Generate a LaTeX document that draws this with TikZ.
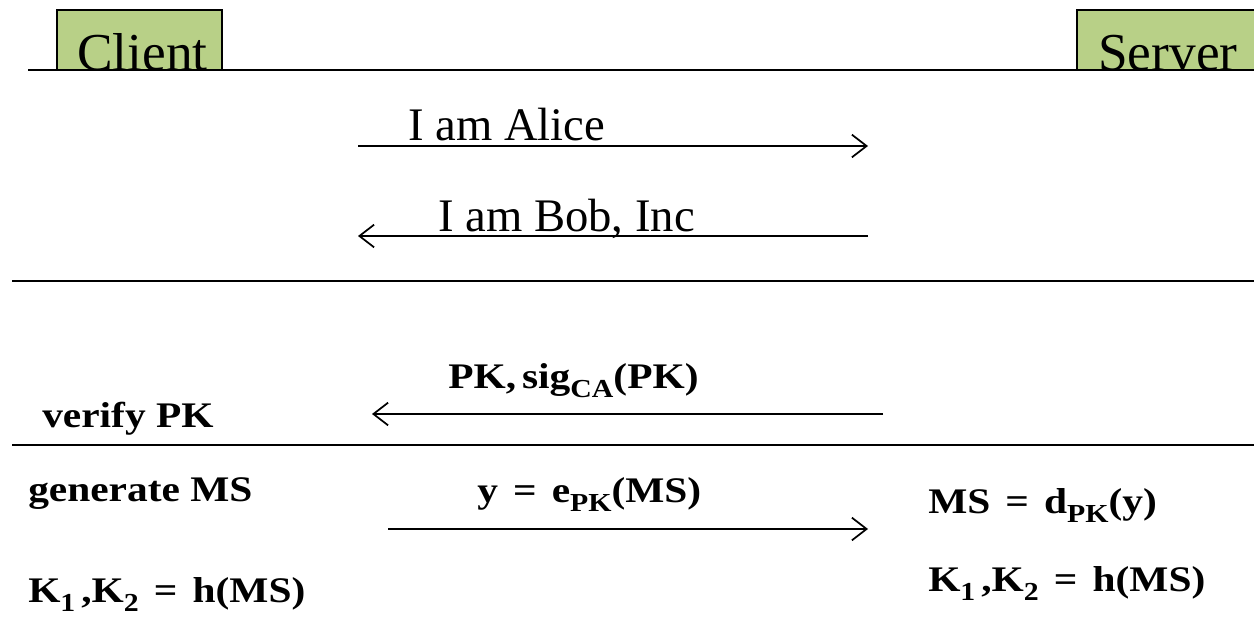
\documentclass[tikz,border=0pt]{standalone}
\usepackage{fontspec}
\setmainfont{Liberation Serif}
\newfontfamily\formulafont{Liberation Serif}[FakeStretch=1.15]
\usetikzlibrary{arrows.meta}
\definecolor{partygreen}{RGB}{184,208,135}
% lowered, smaller subscript for the key formulas
\newcommand\lsub[1]{\raisebox{-0.25em}{\scalebox{0.72}{#1}}}
% widely spaced equals sign
\newcommand\eqs{\hspace{0.42em}=\hspace{0.42em}}
\begin{document}
\begin{tikzpicture}[x=0.75pt,y=-0.75pt,
  party/.style={draw=black,line width=1.5pt,fill=partygreen},
  rule/.style={line width=1.5pt},
  msg/.style={line width=1.4pt,-{Straight Barb[length=11pt,width=17pt,line width=1.3pt]}},
  partyname/.style={anchor=base west,inner sep=0pt,font=\fontsize{40}{46}\selectfont},
  lbl/.style={anchor=base west,inner sep=0pt,font=\fontsize{35}{40}\selectfont},
  eqn/.style={anchor=base west,inner sep=0pt,font=\formulafont\fontsize{27}{32}\selectfont\bfseries}]
\useasboundingbox (0,0) rectangle (1254,617);
\clip (0,0) rectangle (1254,617);

% parties
\draw[party] (57,10) rectangle (222,70);
\draw[party] (1077,10) rectangle (1270,70);
\node[partyname] (client) at (77,71) {Client};
\node[partyname] (server) at (1098,71) {Server};

% phase separators
\draw[rule] (28,70) -- (1254,70);
\draw[rule] (12,281) -- (1254,281);
\draw[rule] (12,445) -- (1254,445);

% message end points
\coordinate (a1) at (358,146); \coordinate (b1) at (868,146);
\coordinate (a2) at (358,236); \coordinate (b2) at (868,236);
\coordinate (a3) at (372,414); \coordinate (b3) at (883,414);
\coordinate (a4) at (388,529); \coordinate (b4) at (868,529);

% hello exchange
\node[lbl] (alice) at (408,141) {I am Alice};
\draw[msg] (a1) -- (b1);
\node[lbl] (bob) at (438,231) {I am Bob, Inc};
\draw[msg] (b2) -- (a2);

% certificate
\node[eqn] (cert) at (448,388) {PK,\,sig\lsub{CA}(PK)};
\draw[msg] (b3) -- (a3);
\node[eqn] (verify) at (42,427) {verify PK};

% key exchange
\node[eqn] (gen) at (28,501) {generate MS};
\node[eqn] (enc) at (477,502) {y\eqs e\lsub{PK}(MS)};
\draw[msg] (a4) -- (b4);
\node[eqn] (dec) at (928,513) {MS\eqs d\lsub{PK}(y)};
\node[eqn] (keysC) at (28,602) {K\lsub{1}\,,K\lsub{2}\eqs h(MS)};
\node[eqn] (keysS) at (928,591) {K\lsub{1}\,,K\lsub{2}\eqs h(MS)};
\end{tikzpicture}
\end{document}
